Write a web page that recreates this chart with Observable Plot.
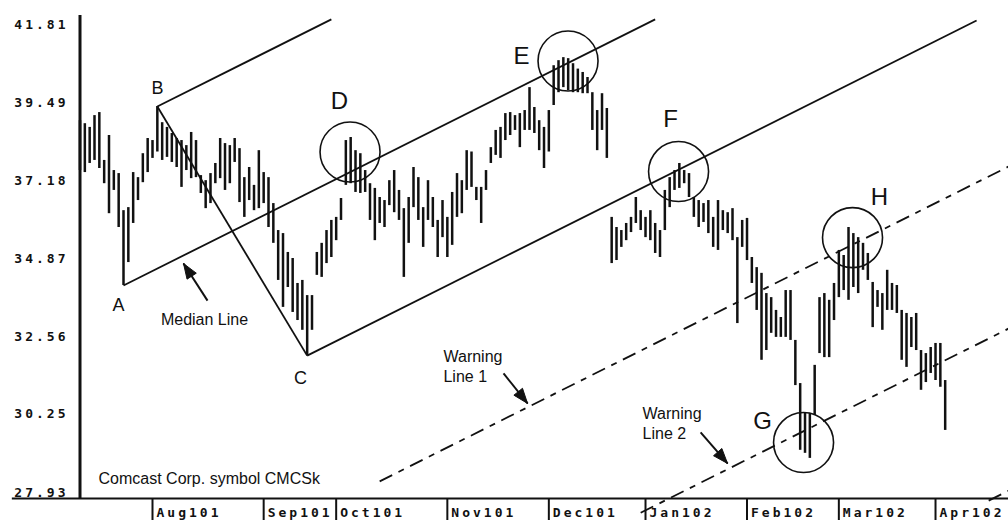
<!DOCTYPE html>
<html>
<head>
<meta charset="utf-8">
<script src="https://cdn.jsdelivr.net/npm/d3@7"></script>
<script src="https://cdn.jsdelivr.net/npm/@observablehq/plot@0.6"></script>
<style>
html, body { margin: 0; padding: 0; background: #fff; }
#chart svg { display: block; }
#chart g[aria-label="y-axis tick label"] text,
#chart g[aria-label="x-axis tick label"] text { letter-spacing: 3px; }
</style>
</head>
<body>
<div id="chart"></div>
<script>
// ---- Daily bars (trading-day index 0 = 11 Jul 2001) ----
const highs = [
  38.96, 38.87, 38.76, 39.11, 39.20, 37.78, 38.52, 37.48, 37.39, 36.29,
  36.38, 37.42, 37.27, 37.98, 38.43, 38.37, 39.38, 38.90, 38.76, 38.58,
  38.43, 38.37, 38.22, 38.61, 38.37, 37.33, 37.18, 37.39, 37.69, 38.43,
  38.28, 38.22, 38.43, 38.13, 37.27, 37.57, 37.04, 38.07, 37.42, 37.27,
  36.50, 35.70, 35.61, 35.05, 34.87, 34.13, 34.22, 33.77, 33.77, 35.05,
  35.32, 35.70, 36.00, 36.09, 36.65, 38.37, 38.46, 38.07, 37.98, 37.48,
  37.09, 36.95, 36.68, 36.59, 37.18, 37.48, 36.89, 36.35, 36.68, 37.57,
  37.27, 36.38, 37.18, 36.68, 36.00, 36.59, 36.09, 36.83, 37.39, 37.18,
  38.07, 38.03, 36.98, 36.98, 37.48, 38.16, 38.67, 38.76, 39.17, 39.20,
  39.11, 39.17, 39.26, 39.94, 39.35, 38.96, 38.76, 39.26, 40.59, 40.74,
  40.83, 40.80, 40.65, 40.49, 40.39, 40.24, 39.79, 39.26, 39.76, 39.32,
  36.09, 35.79, 35.70, 35.91, 36.09, 36.68, 36.29, 36.09, 36.29, 35.91,
  35.70, 36.89, 37.27, 37.48, 37.69, 37.48, 37.39, 36.68, 36.59, 36.50,
  36.59, 36.09, 36.59, 36.29, 36.23, 36.35, 35.49, 36.00, 36.06, 34.90,
  34.60, 34.43, 33.83, 33.71, 33.33, 33.12, 33.92, 33.92, 32.44, 31.16,
  30.30, 30.27, 31.70, 33.71, 33.83, 33.63, 34.13, 35.11, 34.96, 35.79,
  35.61, 35.49, 35.32, 35.02, 34.16, 33.92, 33.83, 34.52, 34.13, 34.07,
  33.33, 33.24, 33.12, 33.24, 32.14, 32.05, 32.23, 32.35, 32.35, 31.25
];
const lows = [
  37.48, 37.42, 37.69, 37.78, 37.54, 37.09, 36.20, 36.89, 35.79, 34.07,
  34.75, 35.91, 36.59, 37.12, 37.42, 37.84, 38.03, 37.78, 37.87, 37.72,
  37.57, 36.98, 37.48, 37.24, 37.27, 36.80, 36.35, 36.50, 37.09, 37.24,
  36.89, 37.09, 37.72, 36.53, 36.09, 36.59, 36.29, 36.35, 36.50, 35.79,
  35.32, 34.22, 33.42, 34.01, 33.27, 33.03, 32.74, 31.99, 32.74, 34.37,
  34.31, 34.72, 34.90, 35.40, 36.00, 37.04, 37.09, 36.83, 36.80, 36.83,
  36.00, 35.40, 35.91, 35.79, 36.44, 36.23, 36.00, 34.31, 35.32, 36.38,
  36.00, 35.20, 36.00, 35.79, 34.90, 35.49, 34.90, 35.26, 36.09, 36.20,
  36.89, 36.98, 36.59, 35.91, 36.89, 37.69, 37.93, 37.84, 38.37, 38.52,
  38.67, 38.16, 38.67, 38.67, 38.58, 38.07, 37.54, 38.03, 39.41, 39.79,
  39.94, 39.85, 39.79, 39.79, 39.76, 39.76, 38.67, 38.07, 38.67, 37.84,
  34.72, 34.81, 35.20, 35.40, 35.64, 35.91, 35.70, 35.49, 35.40, 35.02,
  34.90, 35.70, 36.38, 36.89, 36.95, 37.09, 36.68, 36.09, 35.79, 35.94,
  35.61, 35.20, 35.11, 35.70, 35.61, 35.40, 32.94, 35.20, 34.81, 34.13,
  33.33, 31.85, 32.14, 32.65, 32.53, 32.53, 32.53, 32.44, 31.10, 29.18,
  29.09, 28.94, 30.21, 32.05, 31.93, 31.93, 33.03, 33.71, 33.92, 33.63,
  34.01, 33.83, 34.52, 34.22, 32.82, 33.42, 32.74, 33.33, 33.33, 33.24,
  31.85, 31.64, 32.23, 32.14, 30.96, 31.19, 31.46, 31.25, 31.05, 29.77
];

// ---- Axes ----
const monthIdx = [15, 38, 53, 76, 97, 117, 138, 157, 177];
const monthLabels = ["Aug101", "Sep101", "Oct101", "Nov101", "Dec101", "Jan102", "Feb102", "Mar102", "Apr102"];
const yTicks = [41.81, 39.49, 37.18, 34.87, 32.56, 30.25, 27.93];
const xDomain = [0, 192.1];
const yDomain = [27.75, 42.08];
const baseLineStart = -14; // bottom axis line runs under the price labels

// ---- Andrews pitchfork pivots ----
const pivotNames = ["A", "B", "C"];
const pivotIdx = [9, 16, 47];
const pivotPrice = [34.07, 39.38, 31.99];
const pivotLabelX = [7.97, 16.04, 45.62];
const pivotLabelY = [33.48, 39.91, 31.31];

// fork lines: start/end (day index) and offset in tine widths from the median line
const forkNames = ["Upper tine", "Median Line", "Lower tine", "Warning Line 1", "Warning Line 2", "Warning Line 3"];
const forkStart = [16, 9, 47, 62, 116, 188];
const forkEnd = [52, 119, 185.5, 192.1, 192.1, 192.1];
const forkOffset = [1, 0, -1, -2, -3, -4];
const forkDashed = [false, false, false, true, true, true];

// ---- Circled points ----
const circleNames = ["D", "E", "F", "G", "H"];
const circleX = [55.87, 100.97, 123.84, 149.7, 159.83];
const circleY = [38.03, 40.73, 37.45, 29.41, 35.49];
const circleLabelX = [53.69, 91.35, 122.2, 141.2, 165.4];
const circleLabelY = [39.53, 40.86, 38.99, 30.04, 36.68];

// ---- Notes and arrows ----
const noteTexts = ["Median Line", "Warning\nLine 1", "Warning\nLine 2", "Comcast Corp. symbol CMCSk"];
const noteX = [25.76, 75.2, 116.4, 3.83];
const noteY = [33.09, 31.70, 29.99, 28.37];
const noteAnchor = ["middle", "start", "start", "start"];
const arrowTailX = [26.38, 87.63, 128.4];
const arrowTailY = [33.62, 31.46, 29.71];
const arrowTipX = [21.42, 92.6, 133.97];
const arrowTipY = [34.72, 30.57, 28.79];

// ---- layout ----
const W = 1008, H = 520, mL = 79.5, mR = 0, mT = 15, mB = 22;

const bars = highs.map((h, i) => ({i, high: h, low: lows[i]}));

const A = {i: pivotIdx[0], p: pivotPrice[0]};
const B = {i: pivotIdx[1], p: pivotPrice[1]};
const C = {i: pivotIdx[2], p: pivotPrice[2]};
const slope = ((B.p + C.p) / 2 - A.p) / ((B.i + C.i) / 2 - A.i);
const median = (i) => A.p + slope * (i - A.i);
const tine = B.p - median(B.i);
const forkLines = forkNames.map((name, k) => ({
  name,
  x1: forkStart[k], x2: forkEnd[k],
  y1: median(forkStart[k]) + forkOffset[k] * tine,
  y2: median(forkEnd[k]) + forkOffset[k] * tine,
  dashed: forkDashed[k]
}));
const handle = [{x1: B.i, y1: B.p, x2: C.i, y2: C.p}];

const pivots = pivotNames.map((t, k) => ({t, x: pivotLabelX[k], y: pivotLabelY[k]}));
const circles = circleNames.map((t, k) => ({t, x: circleX[k], y: circleY[k], lx: circleLabelX[k], ly: circleLabelY[k]}));
const notes = noteTexts.map((t, k) => ({t, x: noteX[k], y: noteY[k], a: noteAnchor[k]}));

// arrows: shaft + filled head polygon (head built in screen space, mapped back through the scales)
const xs = Plot.scale({x: {domain: xDomain, range: [mL, W - mR]}});
const ys = Plot.scale({y: {domain: yDomain, range: [H - mB, mT]}});
const headLen = 15, headHalf = 5.5;
const arrows = arrowTailX.map((_, k) => ({x1: arrowTailX[k], y1: arrowTailY[k], x2: arrowTipX[k], y2: arrowTipY[k]}));
const heads = [];
arrows.forEach((a, k) => {
  const tx = xs.apply(a.x2), ty = ys.apply(a.y2);
  const dx = tx - xs.apply(a.x1), dy = ty - ys.apply(a.y1);
  const L = Math.hypot(dx, dy), ux = dx / L, uy = dy / L;
  const bx = tx - ux * headLen, by = ty - uy * headLen;
  const pts = [[tx, ty], [bx - uy * headHalf, by + ux * headHalf], [bx + uy * headHalf, by - ux * headHalf], [tx, ty]];
  pts.forEach(([px, py]) => heads.push({k, x: xs.invert(px), y: ys.invert(py)}));
});

const ink = "#111";
const tickFont = {fontFamily: "DejaVu Sans Mono", fontSize: 13, fontWeight: "bold"};
const noteFont = {fontFamily: "Liberation Sans", fontSize: 16, lineHeight: 1.25, fill: ink};

const chart = Plot.plot({
  width: W, height: H,
  marginLeft: mL, marginRight: mR, marginTop: mT, marginBottom: mB,
  style: {background: "#fff", color: ink},
  x: {type: "linear", domain: xDomain, label: null},
  y: {type: "linear", domain: yDomain, label: null},
  marks: [
    Plot.axisY({ticks: yTicks, tickSize: 0, tickPadding: 11.5, tickFormat: (d) => d.toFixed(2), label: null, ...tickFont}),
    Plot.axisX({ticks: monthIdx, tickSize: 22, strokeWidth: 2, fill: "none", label: null}),
    Plot.axisX({ticks: monthIdx, tickSize: 0, tickPadding: 9, textAnchor: "start", dx: 4,
                tickFormat: (d) => monthLabels[monthIdx.indexOf(d)], label: null, ...tickFont}),
    Plot.ruleX([xDomain[0]], {stroke: ink, strokeWidth: 3}),
    Plot.ruleY([yDomain[0]], {x1: baseLineStart, x2: xDomain[1], stroke: ink, strokeWidth: 2}),
    Plot.ruleX(bars, {x: "i", y1: "low", y2: "high", stroke: ink, strokeWidth: 2.5}),
    Plot.link(forkLines.filter((d) => !d.dashed), {x1: "x1", y1: "y1", x2: "x2", y2: "y2", stroke: ink, strokeWidth: 1.8}),
    Plot.link(forkLines.filter((d) => d.dashed), {x1: "x1", y1: "y1", x2: "x2", y2: "y2", stroke: ink, strokeWidth: 1.8, strokeDasharray: "14,7,6,7"}),
    Plot.link(handle, {x1: "x1", y1: "y1", x2: "x2", y2: "y2", stroke: ink, strokeWidth: 1.8}),
    Plot.dot(circles, {x: "x", y: "y", r: 30, stroke: ink, strokeWidth: 1.6, fill: "none"}),
    Plot.text(circles, {x: "lx", y: "ly", text: "t", fontFamily: "Liberation Sans", fontSize: 24, fill: ink}),
    Plot.text(pivots, {x: "x", y: "y", text: "t", fontFamily: "Liberation Sans", fontSize: 18, fill: ink}),
    Plot.text(notes.filter((d) => d.a === "middle"), {x: "x", y: "y", text: "t", textAnchor: "middle", ...noteFont}),
    Plot.text(notes.filter((d) => d.a === "start"), {x: "x", y: "y", text: "t", textAnchor: "start", ...noteFont}),
    Plot.link(arrows, {x1: "x1", y1: "y1", x2: "x2", y2: "y2", stroke: ink, strokeWidth: 2}),
    Plot.line(heads, {x: "x", y: "y", z: "k", fill: ink, stroke: ink, strokeWidth: 1})
  ]
});
document.getElementById("chart").appendChild(chart);
</script>
</body>
</html>
